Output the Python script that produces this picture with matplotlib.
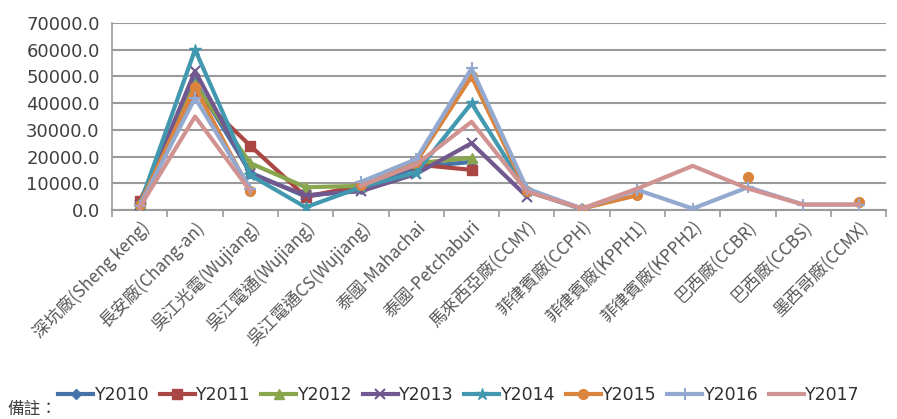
import numpy as np
import matplotlib
matplotlib.use("Agg")
import matplotlib.pyplot as plt

plt.rcParams['font.family'] = ['Noto Sans CJK TC', 'DejaVu Sans']

nan = np.nan

# plants along the x axis
plants = ['深坑廠(Sheng keng)', '長安廠(Chang-an)', '吳江光電(Wujiang)', '吳江電通(Wujiang)',
          '吳江電通CS(Wujiang)', '泰國-Mahachai', '泰國-Petchaburi', '馬來西亞廠(CCMY)',
          '菲律賓廠(CCPH)', '菲律賓廠(KPPH1)', '菲律賓廠(KPPH2)', '巴西廠(CCBR)',
          '巴西廠(CCBS)', '墨西哥廠(CCMX)']

years = ['Y2010', 'Y2011', 'Y2012', 'Y2013', 'Y2014', 'Y2015', 'Y2016', 'Y2017']

y2010 = [3000, 48000, 14000, 5000, 8000, 16000, 18000, nan, nan, nan, nan, nan, nan, nan]
y2011 = [3500, 44000, 24000, 5000, 9000, 17000, 15000, nan, nan, nan, nan, nan, nan, nan]
y2012 = [2500, 47000, 17500, 8500, 9000, 17500, 19500, nan, nan, nan, nan, nan, nan, nan]
y2013 = [2000, 52000, 13500, 5500, 7000, 13500, 25000, 5000, nan, nan, nan, nan, nan, nan]
y2014 = [2000, 60000, 13000, 1000, 8500, 14000, 40000, 7000, 300, nan, nan, nan, nan, nan]
y2015 = [2000, 46000, 7000, nan, 9500, 18000, 50000, 7000, 500, 5500, nan, 12500, nan, 3000]
y2016 = [1500, 42000, 8000, nan, 10500, 19000, 53000, 8000, 500, 7500, 500, 8500, 2000, 2000]
y2017 = [1000, 35000, 7000, nan, 9000, 17000, 33000, 7000, 500, 8000, 16500, 8000, 2000, 2000]

series = [y2010, y2011, y2012, y2013, y2014, y2015, y2016, y2017]
colors = ['#4572A7', '#AA4643', '#89A54E', '#71588F', '#4198AF', '#DB843D', '#93A9CF', '#D19392']
markers = ['D', 's', '^', 'x', '*', 'o', '+', None]
msizes = [5, 7, 7, 7, 9, 7, 9, 0]

fig = plt.figure(figsize=(8.97, 4.19), dpi=100)
ax = fig.add_axes([0.125, 0.499, 0.863, 0.446])

x = np.arange(len(plants))
for name, vals, c, m, ms in zip(years, series, colors, markers, msizes):
    ax.plot(x, vals, color=c, lw=3, marker=m, markersize=ms,
            markeredgewidth=1.5 if m in ('x', '+') else 1, markeredgecolor=c,
            label=name, zorder=3)

ax.set_xlim(-0.5, len(plants) - 0.5)
ax.set_ylim(0, 70000)
ax.set_yticks(np.arange(0, 70001, 10000))
ax.set_yticklabels(['%.1f' % v for v in np.arange(0, 70001, 10000)], fontsize=13,
                   color='#404040', family='DejaVu Sans')
ax.yaxis.grid(True, color='#9a9a9a', lw=1.5)
ax.set_axisbelow(True)
ax.tick_params(axis='y', length=0, pad=9)

ax.set_xticks(x)
ax.set_xticklabels(plants, rotation=45, ha='right', rotation_mode='anchor',
                   fontsize=12.3, color='#595959')
ax.set_xticks(np.arange(-0.5, len(plants), 1), minor=True)
ax.tick_params(axis='x', which='major', length=0, pad=6)
ax.tick_params(axis='x', which='minor', length=5, color='#9a9a9a', width=1.2)

for s in ['top', 'right']:
    ax.spines[s].set_visible(False)
ax.spines['left'].set_color('#9a9a9a')
ax.spines['bottom'].set_color('#9a9a9a')
ax.spines['left'].set_linewidth(1.2)
ax.spines['bottom'].set_linewidth(1.5)

fig.legend(loc='center', bbox_to_anchor=(0.512, 0.057), ncol=8, frameon=False,
           prop={'family': 'DejaVu Sans', 'size': 12.5}, handlelength=2.0,
           columnspacing=0.6, handletextpad=0.1, labelcolor='#303030')
fig.text(0.008, 0.002, '備註：', fontsize=12, color='#404040', va='bottom')

fig.savefig('out.png', dpi=100)
